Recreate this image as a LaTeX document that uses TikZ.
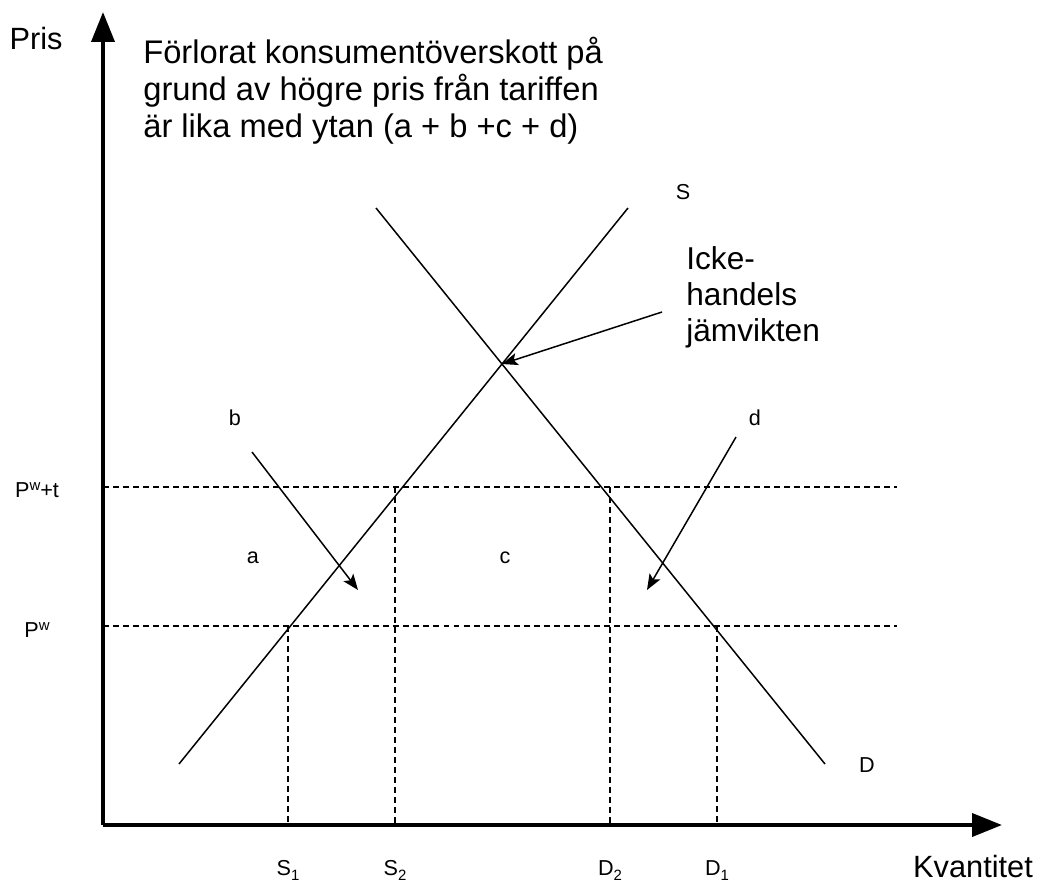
\documentclass[tikz,border=0pt]{standalone}
\usepackage{fontspec}
\setmainfont{Liberation Sans}
\usetikzlibrary{arrows.meta,positioning,calc}
\newcommand{\hochidx}[1]{\raisebox{0.55ex}{\fontsize{8.5}{9}\selectfont #1}}
\newcommand{\tiefidx}[1]{\raisebox{-0.45ex}{\fontsize{8.5}{9}\selectfont #1}}

\begin{document}
\begin{tikzpicture}[x=0.02cm,y=-0.02cm,>=Stealth,
    axis/.style={line width=2.3pt,-{Triangle[length=17pt,width=13pt]}},
    curve/.style={line width=0.85pt},
    guide/.style={line width=0.6pt,dash pattern=on 3.4pt off 2.3pt},
    pointer/.style={line width=0.85pt,-{Stealth[length=9pt,width=7pt,inset=2pt]}},
    big/.style={inner sep=0,font=\fontsize{17.5}{20.5}\selectfont},
    small/.style={inner sep=0,font=\fontsize{12.3}{14}\selectfont}]
    \useasboundingbox (0,0) rectangle (1038,882);
    \coordinate (O) at (103,825);
    \coordinate (ytip) at (103,12);
    \coordinate (xtip) at (1002,825);
    \draw[axis] (O) -- (ytip);
    \draw[axis] (O) -- (xtip);
    \node[big,anchor=base] (pris) at (36,50) {Pris};
    \node[big,anchor=base] (kvant) at (973,877) {Kvantitet};
    \node[inner sep=0,anchor=north west,align=left,
      font=\fontsize{18.6}{21}\selectfont] (title) at (143,37)
      {Förlorat konsumentöverskott på\\grund av högre pris från tariffen\\är lika med ytan (a + b +c + d)};
    \coordinate (s0) at (179,764);
    \coordinate (s1) at (628,208);
    \coordinate (d0) at (376,208);
    \coordinate (d1) at (825,764);
    \coordinate (eq) at (intersection of s0--s1 and d0--d1);
    \draw[curve] (s0) -- (s1);
    \draw[curve] (d0) -- (d1);
    \node[small] (lS) at (683,192) {S};
    \node[small] (lD) at (867,765) {D};
    \coordinate (pwt) at (103,487);
    \coordinate (pwtR) at (897,487);
    \coordinate (pw) at (103,626);
    \coordinate (pwR) at (897,626);
    \draw[guide] (pwt) -- (pwtR);
    \draw[guide] (pw) -- (pwR);
    \node[small,anchor=base] (lpwt) at (37,497) {P\hochidx{w}+t};
    \node[small,anchor=base] (lpw) at (37,637) {P\hochidx{w}};
    \foreach \n/\x/\y/\lab in {S1/288/626/S\tiefidx{1},S2/395/487/S\tiefidx{2},
      D2/610/487/D\tiefidx{2},D1/717/626/D\tiefidx{1}} {
      \coordinate (\n top) at (\x,\y);
      \coordinate (\n bot) at (\x,825);
      \draw[guide] (\n top) -- (\n bot);
      \node[small,anchor=base] (l\n) at (\x,875) {\lab};
    }
    \node[small] (la) at (253,558) {a};
    \node[small] (lb) at (235,418) {b};
    \node[small] (lc) at (505,558) {c};
    \node[small] (ld) at (755,418) {d};
    \node[inner sep=0,anchor=north west,align=left,
      font=\fontsize{18}{20.5}\selectfont] (icke) at (686,246)
      {Icke-\\handels\\jämvikten};
    \coordinate (ickeTail) at (662,312);
    \draw[pointer] (ickeTail) -- (eq);
    \coordinate (bTail) at (252,452);
    \coordinate (bTip) at (358,590);
    \draw[pointer] (bTail) -- (bTip);
    \coordinate (dTail) at (736,437);
    \coordinate (dTip) at (647,590);
    \draw[pointer] (dTail) -- (dTip);
  \end{tikzpicture}
\end{document}
